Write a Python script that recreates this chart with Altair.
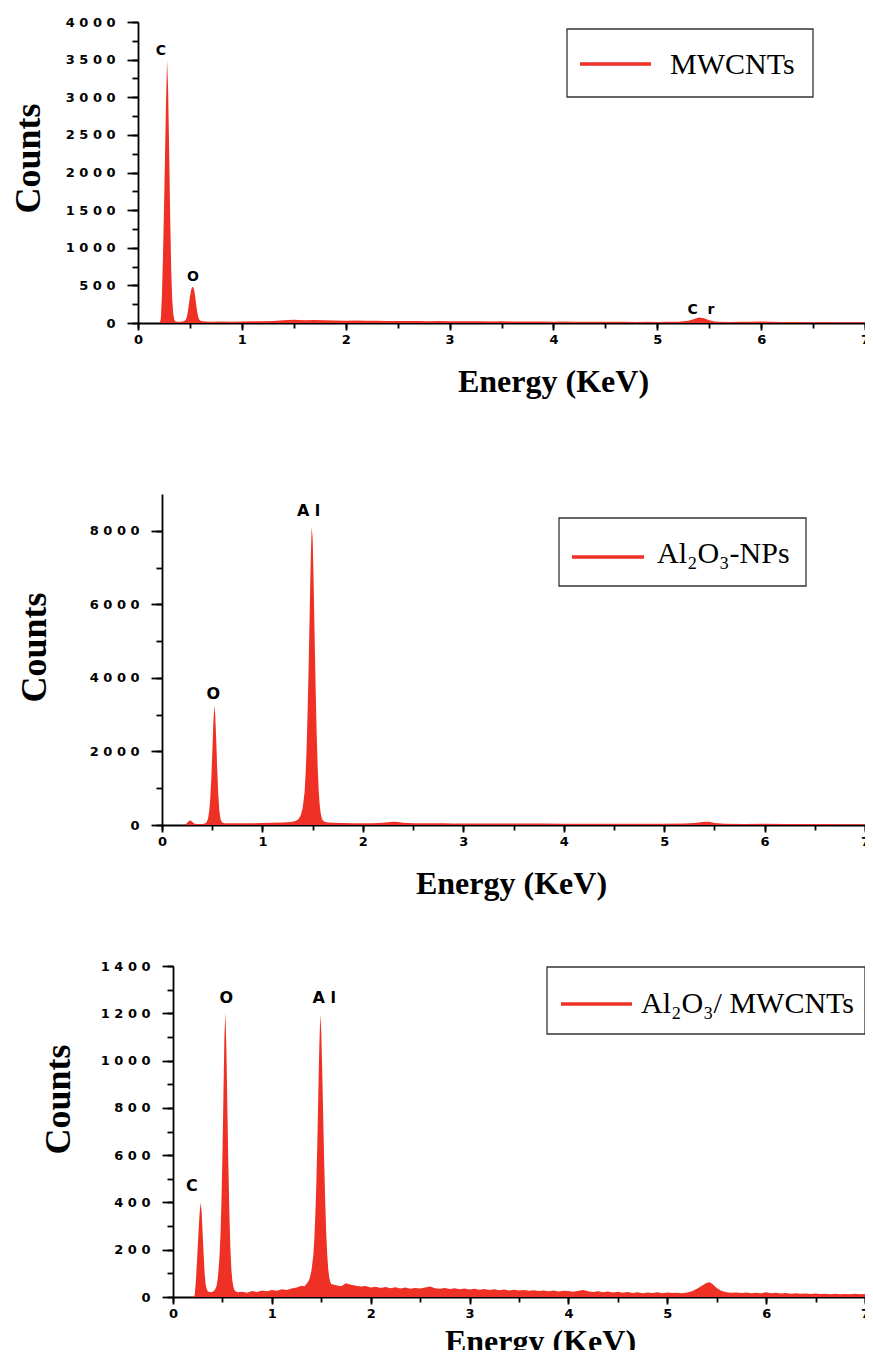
import altair as alt
import pandas as pd

RED = "#ee3124"
NB = "\u00a0"

# ---------------- Panel 1: MWCNTs ----------------
mw_energy = [0.21, 0.22, 0.23, 0.24, 0.25, 0.26, 0.27, 0.28, 0.29, 0.30,
             0.31, 0.32, 0.33, 0.34, 0.35, 0.36, 0.38, 0.40, 0.42, 0.44,
             0.46, 0.47, 0.48, 0.49, 0.50, 0.51, 0.52, 0.53, 0.54, 0.55,
             0.56, 0.57, 0.58, 0.59, 0.60, 0.62, 0.65, 0.70, 0.80, 0.90,
             1.0, 1.1, 1.2, 1.3, 1.4, 1.5, 1.6, 1.7, 1.8, 1.9,
             2.0, 2.1, 2.2, 2.3, 2.4, 2.5, 2.6, 2.7, 2.8, 2.9,
             3.0, 3.1, 3.2, 3.3, 3.4, 3.5, 3.6, 3.7, 3.8, 3.9,
             4.0, 4.1, 4.2, 4.3, 4.4, 4.5, 4.6, 4.7, 4.8, 4.9,
             5.0, 5.1, 5.2, 5.3, 5.35, 5.4, 5.45, 5.5, 5.55, 5.6,
             5.7, 5.8, 5.9, 6.0, 6.1, 6.2, 6.3, 6.4, 6.5, 6.6,
             6.7, 6.8, 6.9, 7.0]
mw_counts = [0, 60, 350, 850, 1500, 2200, 2950, 3500, 3100, 2300,
             1400, 700, 300, 120, 40, 20, 15, 15, 18, 22,
             40, 80, 150, 250, 350, 430, 475, 480, 440, 360,
             250, 150, 80, 45, 30, 22, 20, 18, 20, 17,
             21, 22, 24, 28, 36, 42, 38, 40, 35, 33,
             30, 32, 29, 31, 27, 28, 26, 27, 24, 25,
             23, 24, 22, 23, 21, 22, 20, 21, 19, 20,
             18, 19, 17, 18, 16, 17, 15, 16, 14, 15,
             14, 15, 18, 30, 50, 72, 62, 35, 20, 15,
             14, 15, 17, 20, 16, 13, 12, 13, 11, 12,
             10, 11, 10, 9]
mw_peak_names = ["C", "O", "C" + NB + NB + "r"]
mw_peak_energy = [0.22, 0.53, 5.42]
mw_peak_counts = [3610, 610, 175]

# ---------------- Panel 2: Al2O3-NPs ----------------
al_energy = [0.22, 0.24, 0.26, 0.28, 0.30, 0.32, 0.34, 0.36, 0.38, 0.40,
             0.42, 0.44, 0.45, 0.46, 0.47, 0.48, 0.49, 0.50, 0.51, 0.52,
             0.53, 0.54, 0.55, 0.56, 0.57, 0.58, 0.59, 0.60, 0.62, 0.65,
             0.70, 0.80, 0.90, 1.00, 1.10, 1.20, 1.25, 1.30, 1.33, 1.36,
             1.38, 1.40, 1.42, 1.43, 1.44, 1.45, 1.46, 1.47, 1.48, 1.49,
             1.50, 1.51, 1.52, 1.53, 1.54, 1.55, 1.56, 1.57, 1.58, 1.59,
             1.60, 1.62, 1.65, 1.70, 1.80, 1.90, 2.00, 2.10, 2.20, 2.30,
             2.35, 2.40, 2.50, 2.60, 2.70, 2.80, 2.90, 3.00, 3.20, 3.40,
             3.60, 3.80, 4.00, 4.20, 4.40, 4.60, 4.80, 5.00, 5.20, 5.30,
             5.40, 5.45, 5.50, 5.60, 5.80, 6.00, 6.20, 6.40, 6.60, 6.80,
             7.00]
al_counts = [0, 30, 90, 130, 90, 40, 25, 20, 22, 25,
             35, 60, 110, 200, 380, 700, 1200, 1900, 2700, 3250,
             3000, 2300, 1500, 850, 420, 200, 110, 70, 50, 45,
             45, 50, 48, 55, 60, 70, 75, 90, 110, 160,
             250, 450, 900, 1400, 2100, 3100, 4300, 5700, 7100, 8100,
             7800, 6600, 5100, 3700, 2500, 1600, 950, 550, 320, 200,
             130, 90, 70, 60, 55, 50, 48, 50, 60, 85,
             80, 60, 50, 47, 45, 46, 43, 44, 42, 40,
             41, 38, 37, 36, 35, 34, 33, 32, 38, 55,
             90, 85, 55, 35, 30, 32, 28, 26, 24, 22,
             20]
al_peak_names = ["A" + NB + "l", "O"]
al_peak_energy = [1.46, 0.51]
al_peak_counts = [8530, 3560]

# ---------------- Panel 3: Al2O3 / MWCNTs ----------------
hy_energy = [0.21, 0.22, 0.23, 0.24, 0.25, 0.26, 0.27, 0.28, 0.29, 0.30,
             0.31, 0.32, 0.33, 0.34, 0.35, 0.36, 0.38, 0.40, 0.42, 0.44,
             0.45, 0.46, 0.47, 0.48, 0.49, 0.50, 0.51, 0.52, 0.53, 0.54,
             0.55, 0.56, 0.57, 0.58, 0.59, 0.60, 0.61, 0.62, 0.64, 0.66,
             0.70, 0.75, 0.80, 0.85, 0.90, 0.95, 1.00, 1.05, 1.10, 1.15,
             1.20, 1.25, 1.30, 1.33, 1.36, 1.38, 1.40, 1.42, 1.43, 1.44,
             1.45, 1.46, 1.47, 1.48, 1.49, 1.50, 1.51, 1.52, 1.53, 1.54,
             1.55, 1.56, 1.57, 1.58, 1.59, 1.60, 1.65, 1.70, 1.75, 1.80,
             1.85, 1.90, 1.95, 2.00, 2.05, 2.10, 2.15, 2.20, 2.25, 2.30,
             2.35, 2.40, 2.45, 2.50, 2.55, 2.60, 2.65, 2.70, 2.75, 2.80,
             2.85, 2.90, 2.95, 3.00, 3.05, 3.10, 3.15, 3.20, 3.25, 3.30,
             3.35, 3.40, 3.45, 3.50, 3.55, 3.60, 3.65, 3.70, 3.75, 3.80,
             3.85, 3.90, 3.95, 4.00, 4.05, 4.10, 4.15, 4.20, 4.25, 4.30,
             4.35, 4.40, 4.45, 4.50, 4.55, 4.60, 4.65, 4.70, 4.75, 4.80,
             4.85, 4.90, 4.95, 5.00, 5.05, 5.10, 5.15, 5.20, 5.25, 5.30,
             5.35, 5.40, 5.43, 5.46, 5.50, 5.55, 5.60, 5.65, 5.70, 5.75,
             5.80, 5.85, 5.90, 5.95, 6.00, 6.05, 6.10, 6.15, 6.20, 6.25,
             6.30, 6.35, 6.40, 6.45, 6.50, 6.55, 6.60, 6.65, 6.70, 6.75,
             6.80, 6.85, 6.90, 6.95, 7.00]
hy_counts = [0, 10, 60, 130, 210, 290, 360, 400, 360, 270,
             180, 100, 55, 35, 25, 22, 20, 22, 28, 45,
             70, 110, 170, 260, 400, 600, 850, 1100, 1205, 1050,
             800, 560, 360, 210, 120, 70, 45, 30, 22, 20,
             22, 18, 25, 21, 27, 24, 30, 26, 33, 30,
             36, 40, 48, 45, 60, 75, 110, 180, 250, 350,
             480, 650, 860, 1060, 1195, 1120, 950, 750, 560, 400,
             270, 180, 120, 85, 65, 55, 50, 45, 58, 52,
             48, 44, 46, 40, 43, 38, 42, 37, 41, 36,
             40, 35, 38, 36, 40, 44, 37, 35, 38, 34,
             37, 33, 36, 32, 35, 31, 34, 30, 33, 29,
             32, 28, 31, 27, 30, 26, 29, 25, 28, 24,
             27, 23, 26, 25, 22, 26, 30, 24, 21, 24,
             20, 23, 19, 22, 18, 21, 17, 20, 16, 19,
             17, 20, 16, 19, 17, 18, 16, 19, 24, 35,
             48, 60, 62, 54, 38, 25, 20, 18, 19, 17,
             19, 16, 18, 16, 20, 16, 18, 15, 17, 14,
             16, 14, 15, 13, 15, 13, 14, 12, 14, 12,
             13, 12, 14, 12, 13]
hy_peak_names = ["C", "O", "A" + NB + "l"]
hy_peak_energy = [0.19, 0.54, 1.53]
hy_peak_counts = [470, 1263, 1263]

legend_names = ["MWCNTs", "Al\u2082O\u2083-NPs", "Al\u2082O\u2083/ MWCNTs"]

X_MAJOR = [0, 1, 2, 3, 4, 5, 6, 7]
X_MINOR = [i * 0.5 for i in range(15)]
TICK_FONT = "DejaVu Sans"
W = 727


def panel(energy, counts, pk_names, pk_e, pk_c, legend_text, *, ymax, ytop, ymajor, yminor,
          x0, height, ytx, yty, xtx, xty, pk_font, box, line, txt, top_gap=None):
    df = pd.DataFrame({"energy": energy, "counts": counts})
    lab = pd.DataFrame({"energy": pk_e, "counts": pk_c, "name": pk_names})
    one = pd.DataFrame({"k": [0]})
    xs = alt.Scale(domain=[0, 7], range=[x0, W], nice=False)
    ys = alt.Scale(domain=[0, ymax], nice=False)

    x_axis = alt.Axis(
        values=X_MAJOR, format="d", tickSize=7, labelPadding=3,
        labelFlush=False, labelOverlap=False, orient="bottom",
        title="Energy (KeV)", titleX=xtx, titleY=xty, titleBaseline="alphabetic",
        titleFontSize=32, grid=False,
    )
    y_axis = alt.Axis(
        values=list(range(0, ytop + 1, ymajor)),
        labelExpr=f"join(split(format(datum.value, 'd'), ''), '{NB}')",
        tickSize=11, labelPadding=12, labelOverlap=False, offset=-x0, orient="left",
        title="Counts", titleX=ytx, titleY=yty, titleBaseline="alphabetic",
        titleFontSize=36, grid=False,
    )
    x_minor = alt.Axis(values=X_MINOR, labels=False, domain=False, tickSize=5,
                       title=None, orient="bottom", grid=False)
    y_minor = alt.Axis(values=list(range(0, ytop + 1, yminor)), labels=False, domain=False,
                       tickSize=6, offset=-x0, title=None, orient="left", grid=False)

    area = alt.Chart(df).mark_area(color=RED, opacity=1, interpolate="linear").encode(
        x=alt.X("energy:Q", scale=xs, axis=x_axis),
        y=alt.Y("counts:Q", scale=ys, axis=y_axis),
    )
    minor = alt.Chart(df).mark_point(opacity=0).encode(
        x=alt.X("energy:Q", axis=x_minor),
        y=alt.Y("counts:Q", axis=y_minor),
    )
    labels = alt.Chart(lab).mark_text(
        font=TICK_FONT, fontWeight="bold", fontSize=pk_font, color="black", baseline="middle"
    ).encode(x=alt.X("energy:Q", axis=None), y=alt.Y("counts:Q", axis=None), text="name:N")
    frame = alt.Chart(one).mark_rect(fill="white", stroke="#333333", strokeWidth=1.3).encode(
        x=alt.value(box[0]), x2=alt.value(box[1]), y=alt.value(box[2]), y2=alt.value(box[3]))
    key = alt.Chart(one).mark_rule(color=RED, strokeWidth=3.5).encode(
        x=alt.value(line[0]), x2=alt.value(line[1]), y=alt.value(line[2]))
    name = alt.Chart(one).mark_text(
        font="Liberation Serif", fontSize=30, align="left", baseline="alphabetic", color="black"
    ).encode(x=alt.value(txt[0]), y=alt.value(txt[1]), text=alt.value(legend_text))
    ch = alt.layer(area, minor, labels, frame, key, name).resolve_axis(
        x="independent", y="independent"
    ).properties(width=W, height=height)
    if top_gap is not None:
        ch = ch.properties(title=alt.TitleParams(" ", fontSize=2, offset=top_gap))
    return ch


p1 = panel(mw_energy, mw_counts, mw_peak_names, mw_peak_energy, mw_peak_counts, legend_names[0],
           ymax=4000, ytop=4000, ymajor=500, yminor=250, x0=0, height=301,
           ytx=-99, yty=136, xtx=415, xty=68, pk_font=14,
           box=(429, 675, 7, 75), line=(442, 513, 42), txt=(532, 52))
p2 = panel(al_energy, al_counts, al_peak_names, al_peak_energy, al_peak_counts, legend_names[1],
           ymax=9000, ytop=8000, ymajor=2000, yminor=1000, x0=24, height=331,
           ytx=-117, yty=153, xtx=373, xty=68, pk_font=16,
           box=(421, 668, 24, 92), line=(434, 506, 63), txt=(519, 69), top_gap=34)
p3 = panel(hy_energy, hy_counts, hy_peak_names, hy_peak_energy, hy_peak_counts, legend_names[2],
           ymax=1400, ytop=1400, ymajor=200, yminor=100, x0=35, height=331,
           ytx=-104, yty=133, xtx=402, xty=54, pk_font=16,
           box=(409, 727, 1, 68), line=(423, 494, 38), txt=(503, 47))

chart = alt.vconcat(p1, p2, p3, spacing=61).properties(
    padding={"left": 2, "top": 8, "right": -5, "bottom": -7}
).configure_axis(
    domainColor="black", domainWidth=1.8, tickColor="black", tickWidth=1.8,
    labelFont=TICK_FONT, labelFontSize=13, labelFontWeight="bold", labelColor="black",
    titleFont="Liberation Serif", titleFontWeight="bold", titleColor="black",
).configure_view(stroke=None).configure_title(color="white")

chart.save("out.html", embed_options={"renderer": "svg", "actions": False})
